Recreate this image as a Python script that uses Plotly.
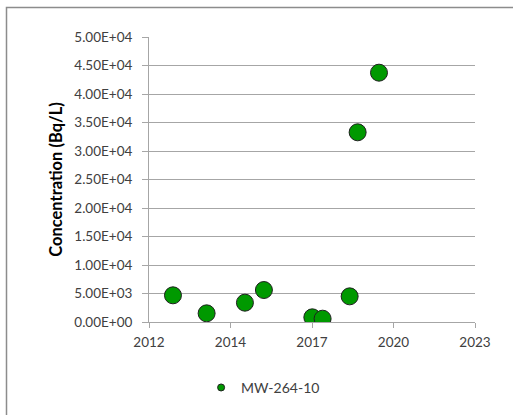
import plotly.graph_objects as go

dates = ["2013-01-20", "2014-03-09", "2015-06-22", "2016-02-10", "2017-09-26",
         "2018-01-30", "2018-12-28", "2019-04-05", "2019-12-23"]
conc = [4680, 1520, 3390, 5610, 820, 580, 4500, 33280, 43740]
series_name = "MW-264-10"
x_tick_vals = ["2012-04-01", "2014-12-27", "2017-09-22", "2020-06-18", "2023-03-15"]
x_tick_text = ["2012", "2014", "2017", "2020", "2023"]
y_tick_vals = [0, 5000, 10000, 15000, 20000, 25000, 30000, 35000, 40000, 45000, 50000]
y_tick_text = ["0.00E+00", "5.00E+03", "1.00E+04", "1.50E+04", "2.00E+04", "2.50E+04",
               "3.00E+04", "3.50E+04", "4.00E+04", "4.50E+04", "5.00E+04"]

FONT = "Lato"
W, H = 513, 415
L, T, PW, PH = 149, 37, 326, 285
fig = go.Figure()
fig.add_trace(go.Scatter(
    x=dates, y=conc, mode="markers", name=series_name, showlegend=False,
    marker=dict(size=17, color="#009900", line=dict(color="#1f1f1f", width=1)),
))
fig.add_trace(go.Scatter(
    x=[None], y=[None], mode="markers", name=series_name, showlegend=True,
    marker=dict(size=7, color="#009900", line=dict(color="#1f1f1f", width=1)),
))
fig.update_layout(
    width=W, height=H,
    margin=dict(l=L, r=W - L - PW, t=T, b=H - T - PH, autoexpand=False),
    paper_bgcolor="white", plot_bgcolor="white",
    font=dict(family=FONT, size=13, color="#404040"),
    showlegend=True,
    legend=dict(orientation="h", x=0.35, xanchor="center", y=-0.175, yanchor="top",
                font=dict(family=FONT, size=14, color="#404040"), itemwidth=30),
    xaxis=dict(
        type="date", range=[x_tick_vals[0], x_tick_vals[-1]],
        tickmode="array", tickvals=x_tick_vals, ticktext=x_tick_text,
        showgrid=False, showline=True, linecolor="#a6a6a6", linewidth=1,
        ticks="outside", ticklen=5, tickcolor="#a6a6a6", ticklabelstandoff=3,
        tickfont=dict(family=FONT, size=13.5, color="#404040"), zeroline=False,
    ),
    yaxis=dict(
        range=[0, 50000], tickmode="array", tickvals=y_tick_vals, ticktext=y_tick_text,
        showgrid=True, gridcolor="#a6a6a6", gridwidth=1,
        showline=True, linecolor="#a6a6a6", linewidth=1,
        ticks="outside", ticklen=6, tickcolor="#a6a6a6", ticklabelstandoff=7,
        tickfont=dict(family=FONT, size=13.5, color="#404040"), zeroline=False,
        title=dict(text="<b>Concentration (Bq/L)</b>", font=dict(family=FONT, size=16.5, color="#000000"), standoff=7),
    ),
)
fig.add_shape(type="rect", xref="paper", yref="paper",
              x0=(6.5 - L) / PW, x1=(530 - L) / PW,
              y0=(T + PH - 430) / PH, y1=(T + PH - 7.5) / PH,
              line=dict(color="#8c8c8c", width=1.5), fillcolor="rgba(0,0,0,0)", layer="below")
fig.write_html("out.html", config={"displayModeBar": False},
               post_script="document.body.style.margin='0';document.body.style.overflow='hidden';")
